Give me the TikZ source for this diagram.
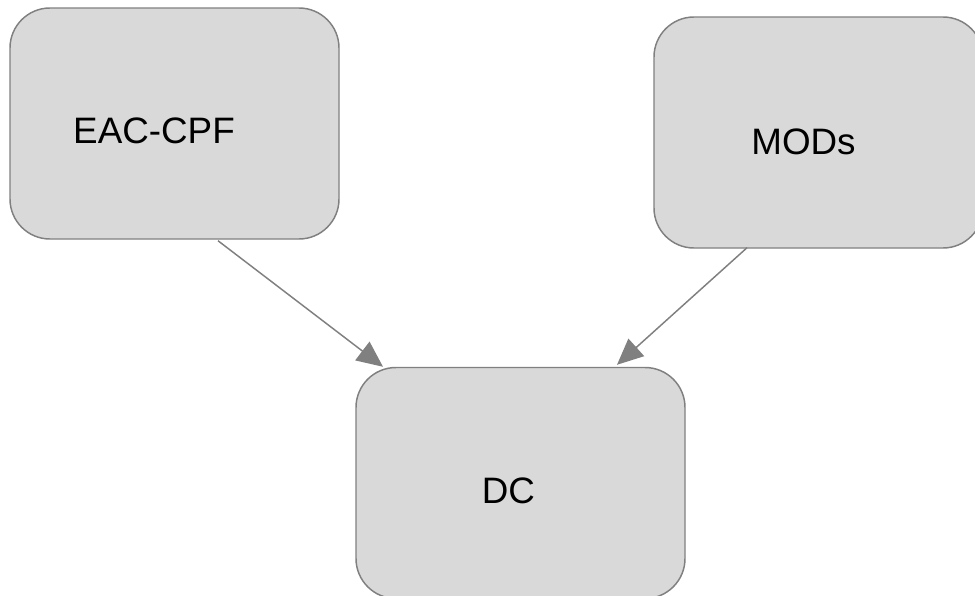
\documentclass[tikz,border=0pt]{standalone}
\usepackage{fontspec}
\setmainfont{Liberation Sans}
\usetikzlibrary{arrows.meta,calc}
\definecolor{boxfill}{HTML}{D9D9D9}
\definecolor{boxline}{HTML}{808080}
\begin{document}
\begin{tikzpicture}[x=0.75pt,y=-0.75pt,
  box/.style={draw=boxline,fill=boxfill,line width=1.1pt,rounded corners=30pt,
    minimum width=246.75pt,minimum height=173.25pt,inner sep=0pt},
  lbl/.style={anchor=base,font=\fontsize{27.6}{32}\selectfont,text=black,inner sep=0pt},
  conn/.style={draw=boxline,line width=1.1pt,-{Triangle[length=19.5pt,width=17.5pt]}}]
\useasboundingbox (0,0) rectangle (975,596);
\clip (0,0) rectangle (975,596);
\fill[white] (0,0) rectangle (975,596);
\node[box] (eac) at (174.5,123.5) {};
\node[box] (mods) at (818.5,132.5) {};
\node[box] (dc) at (520.5,483) {};
\node[lbl] (eact) at (154,143) {EAC-CPF};
\node[lbl] (modst) at (803.5,154) {MODs};
\node[lbl] (dct) at (508.5,503) {DC};
\draw[conn] ($(eac.south)+(43.5,1)$) -- ($(dc.north)+(-137.5,0)$);
\draw[conn] ($(mods.south)+(-71.5,-1)$) -- ($(dc.north)+(96.5,-2)$);
\end{tikzpicture}
\end{document}
